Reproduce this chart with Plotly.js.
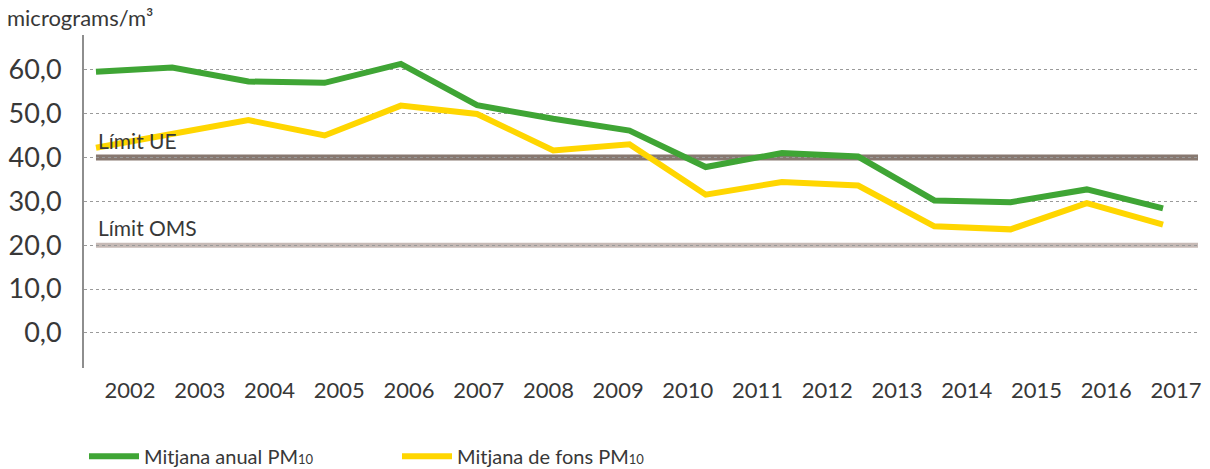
<!DOCTYPE html>
<html>
<head>
<meta charset="utf-8">
<script src="https://cdn.plot.ly/plotly-3.0.1.min.js"></script>
<style>html,body{margin:0;padding:0;background:#fff;}#chart{width:1210px;height:469px;}</style>
</head>
<body>
<div id="chart"></div>
<script>
// Tick labels along the x axis
const yearLabels = [2002, 2003, 2004, 2005, 2006, 2007, 2008, 2009, 2010, 2011, 2012, 2013, 2014, 2015, 2016, 2017];
// Data points (the reference draws 15 evenly spaced points under 16 labels)
const dataYears = [2003, 2004, 2005, 2006, 2007, 2008, 2009, 2010, 2011, 2012, 2013, 2014, 2015, 2016, 2017];
const mitjanaAnual = [59.5, 60.5, 57.3, 57.0, 61.3, 51.9, 48.8, 46.1, 37.8, 41.0, 40.2, 30.2, 29.8, 32.7, 28.4];
const mitjanaFons  = [42.2, 45.3, 48.5, 45.0, 51.8, 49.9, 41.6, 43.0, 31.5, 34.4, 33.6, 24.3, 23.6, 29.6, 24.7];
const limitUE = 40;
const limitOMS = 20;
const yTicks = [0, 10, 20, 30, 40, 50, 60];

const FONT = 'Lato, "Open Sans", sans-serif';
const TXT = '#383838';

const dataRange = [2002.843, 2017.459];
const labelRange = [2001.34, 2017.316];

const traces = [
  {
    x: dataYears, y: mitjanaAnual, type: 'scatter', mode: 'lines',
    name: 'Mitjana anual PM<span style="font-size:13px">10</span>',
    line: {color: '#3fa535', width: 6}, xaxis: 'x', yaxis: 'y'
  },
  {
    x: dataYears, y: mitjanaFons, type: 'scatter', mode: 'lines',
    name: 'Mitjana de fons PM<span style="font-size:13px">10</span>',
    line: {color: '#ffd600', width: 6}, xaxis: 'x', yaxis: 'y'
  },
  // invisible trace to activate the label axis
  {
    x: yearLabels, y: yearLabels.map(() => null), type: 'scatter', mode: 'lines',
    xaxis: 'x2', yaxis: 'y', showlegend: false, hoverinfo: 'skip'
  }
];

const layout = {
  width: 1210, height: 469,
  margin: {l: 84, r: 12, t: 35, b: 101, autoexpand: false},
  paper_bgcolor: '#ffffff', plot_bgcolor: '#ffffff',
  separators: ',.',
  font: {family: FONT, color: TXT},
  title: {
    text: 'micrograms/m³',
    font: {family: FONT, size: 22, color: TXT},
    xref: 'container', yref: 'container',
    x: 7 / 1210, xanchor: 'left',
    y: 1 - 18 / 469, yanchor: 'middle'
  },
  xaxis: {
    range: dataRange, showticklabels: false, showgrid: false,
    zeroline: false, showline: false, ticks: ''
  },
  xaxis2: {
    overlaying: 'x', anchor: 'y', side: 'bottom',
    range: labelRange, tickmode: 'array', tickvals: yearLabels,
    ticktext: yearLabels.map(String),
    showgrid: false, zeroline: false, showline: false,
    ticks: 'outside', ticklen: 0, ticklabelstandoff: 3,
    tickfont: {family: FONT, size: 22, color: TXT}
  },
  yaxis: {
    range: [-8, 67.9], tickmode: 'array', tickvals: yTicks,
    tickformat: '.1f',
    showgrid: true, gridcolor: '#9a9a9a', gridwidth: 1, griddash: 'dot',
    zeroline: false, showline: true, linecolor: '#8e8e8e', linewidth: 2,
    ticks: 'outside', ticklen: 0, ticklabelstandoff: 15,
    tickfont: {family: FONT, size: 27, color: TXT}
  },
  shapes: [
    {type: 'line', xref: 'x', yref: 'y', x0: dataYears[0], x1: dataRange[1], y0: limitUE, y1: limitUE,
     line: {color: '#877870', width: 6}, layer: 'below'},
    {type: 'line', xref: 'x', yref: 'y', x0: dataYears[0], x1: dataRange[1], y0: limitOMS, y1: limitOMS,
     line: {color: '#c6bab6', width: 5}, layer: 'below'}
  ],
  annotations: [
    {xref: 'x', yref: 'y', x: dataYears[0], y: limitUE, xanchor: 'left', yanchor: 'bottom',
     yshift: 2, text: 'Límit UE', showarrow: false, font: {family: FONT, size: 21, color: TXT}},
    {xref: 'x', yref: 'y', x: dataYears[0], y: limitOMS, xanchor: 'left', yanchor: 'bottom',
     yshift: 3, text: 'Límit OMS', showarrow: false, font: {family: FONT, size: 21, color: TXT}}
  ],
  showlegend: true,
  legend: {
    orientation: 'h', x: 0.0, xanchor: 'left', y: -0.265, yanchor: 'middle',
    font: {family: FONT, size: 20, color: TXT},
    itemwidth: 50,
    entrywidth: 248, entrywidthmode: 'pixels',
    bgcolor: 'rgba(0,0,0,0)', borderwidth: 0
  }
};

Plotly.newPlot('chart', traces, layout, {displayModeBar: false, staticPlot: true});
</script>
</body>
</html>
